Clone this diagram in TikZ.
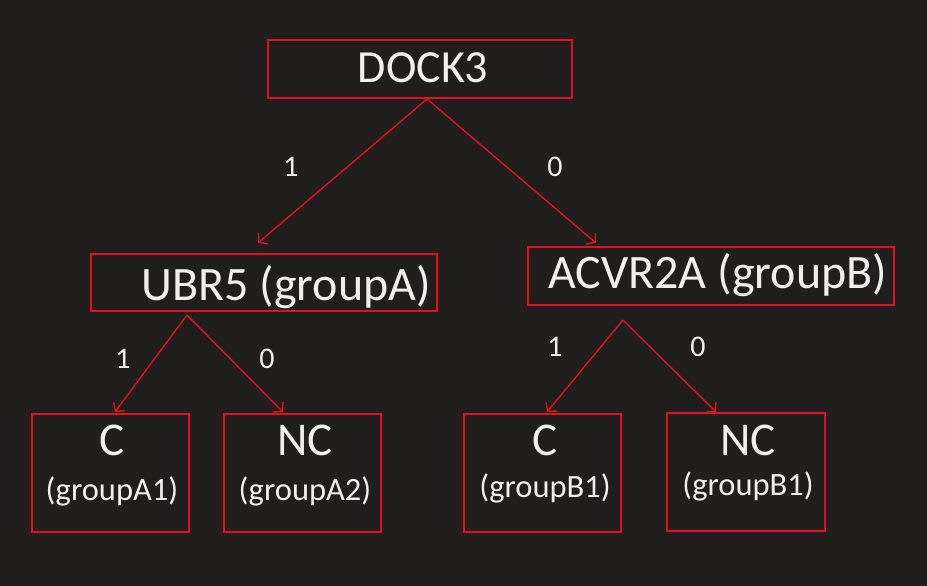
\documentclass[tikz,border=0pt]{standalone}
\usepackage{fontspec}
\setmainfont{Carlito}
\usetikzlibrary{arrows.meta}
\definecolor{bg}{HTML}{201F1E}
\definecolor{boxred}{HTML}{E3101F}
\definecolor{txt}{HTML}{F0F0F0}
\tikzset{
  box/.style={draw=boxred, line width=1.6pt, inner sep=0pt},
  big/.style={text=txt, font=\fontsize{48}{52}\selectfont, anchor=base, inner sep=0pt},
  mid/.style={text=txt, font=\fontsize{47}{50}\selectfont, anchor=base, inner sep=0pt},
  small/.style={text=txt, font=\fontsize{32.5}{36}\selectfont, anchor=base, inner sep=0pt},
  lbl/.style={text=txt, font=\fontsize{30}{34}\selectfont, inner sep=0pt},
  edge/.style={draw=boxred, line width=1.4pt, -{Straight Barb[length=6pt,width=14pt,line width=1.4pt]}},
}
\begin{document}
\begin{tikzpicture}[x=1pt,y=-1pt]
\useasboundingbox (0,0) rectangle (927,586);
\fill[bg] (0,0) rectangle (927,586);
% boxes
\draw[box] (268,40) rectangle (572,98); \coordinate (dock) at (427,99);
\draw[box] (91,254) rectangle (437,311); \coordinate (ubr) at (187,315);
\draw[box] (528,247) rectangle (894,305); \coordinate (acv) at (623,320);
\draw[box] (32,414) rectangle (189,532);
\draw[box] (224,414) rectangle (381,532);
\draw[box] (464,414) rectangle (621,532);
\draw[box] (667,413) rectangle (825,531);
% texts
\node[big, font=\fontsize{46}{50}\selectfont] (tdock) at (423,83) {DOCK3};
\node[big, anchor=base west] (tubr) at (141,300) {UBR5 (groupA)};
\node[big, anchor=base west] (tacv) at (548,288) {ACVR2A (groupB)};
\node[mid] (c1) at (112,455) {C};
\node[small] (g1) at (112,500) {(groupA1)};
\node[mid] (nc1) at (305,455) {NC};
\node[small] (g2) at (305,500) {(groupA2)};
\node[mid] (c2) at (545,455) {C};
\node[small] (g3) at (545,497) {(groupB1)};
\node[mid] (nc2) at (748,455) {NC};
\node[small] (g4) at (748,495) {(groupB1)};
% arrow ends
\coordinate (e1) at (258,243);
\coordinate (e2) at (596,243);
\coordinate (e3) at (115,412);
\coordinate (e4) at (283,412);
\coordinate (e5) at (547,412);
\coordinate (e6) at (716,412);
\draw[edge] (dock) -- (e1);
\draw[edge] (dock) -- (e2);
\draw[edge] (ubr) -- (e3);
\draw[edge] (ubr) -- (e4);
\draw[edge] (acv) -- (e5);
\draw[edge] (acv) -- (e6);
% labels
\node[lbl] (l1) at (291,167) {1};
\node[lbl] (l2) at (555,167) {0};
\node[lbl] (l3) at (123,359) {1};
\node[lbl] (l4) at (267,359) {0};
\node[lbl] (l5) at (555,347) {1};
\node[lbl] (l6) at (698,347) {0};
\end{tikzpicture}
\end{document}
